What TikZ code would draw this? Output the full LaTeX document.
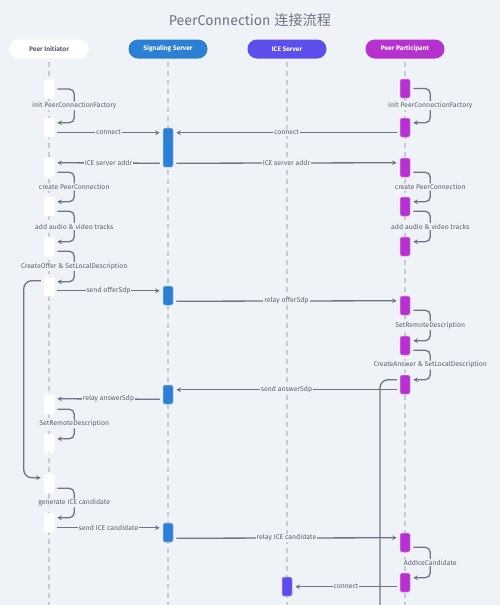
\documentclass[tikz,border=0pt]{standalone}
\usepackage{fontspec}
\setmainfont{Fira Sans}
\newfontfamily\cjkfont{Noto Sans CJK SC}
\usetikzlibrary{arrows.meta,calc}
\definecolor{bg}{HTML}{EFF2F6}
\definecolor{linec}{HTML}{6E7684}
\definecolor{txt}{HTML}{5C6470}
\definecolor{lifec}{HTML}{C6CBD3}
\definecolor{sigc}{HTML}{2B80D5}
\definecolor{icec}{HTML}{5B4EEC}
\definecolor{parc}{HTML}{B631CF}
\definecolor{titlec}{HTML}{6E7785}
\definecolor{initc}{HTML}{FFFFFF}
\begin{document}
\begin{tikzpicture}[x=1pt,y=-1pt,
  hdr/.style={rounded corners=9.5pt, minimum width=79pt, minimum height=19pt, inner sep=0pt,
    font=\fontsize{6.6}{7.5}\selectfont\bfseries, text=white},
  act/.style={fill=#1, draw=#1!45!white, line width=0.5pt, rounded corners=1.5pt,
    minimum width=10pt, minimum height=19pt, inner sep=0pt},
  life/.style={draw=lifec, line width=1.1pt, dash pattern=on 5pt off 4pt},
  msg/.style={draw=linec, line width=1.3pt, -{Stealth[length=4.5pt,width=4.5pt]}},
  selfmsg/.style={msg, rounded corners=5pt},
  loopmsg/.style={msg, rounded corners=8pt},
  lbl/.style={fill=bg, text=txt, font=\fontsize{6.9}{8}\selectfont, inner sep=1pt},
]
\path[use as bounding box, fill=bg] (0,0) rectangle (500,605);
\clip (0,0) rectangle (500,605);

\node[text=titlec, font=\fontsize{14.2}{16}\selectfont] (title) at (250,20) {PeerConnection {\cjkfont 连接流程}};

\node[hdr, fill=white, draw=white, text=txt] (h1) at (49,49) {Peer Initiator};
\node[hdr, fill=sigc] (h2) at (168,49) {Signaling Server};
\node[hdr, fill=icec] (h3) at (287,49) {ICE Server};
\node[hdr, fill=parc] (h4) at (405,49) {Peer Participant};

\coordinate (bot) at (0,606);
\foreach \h in {h1,h2,h3,h4}
  \draw[life] ($(\h.south)+(0,3)$) -- (\h.south |- bot);

% Peer Initiator activations
\node[act=initc] (i1) at (49,89) {};
\node[act=initc] (i2) at (49,127.5) {};
\node[act=initc] (i3) at (49,167.5) {};
\node[act=initc] (i4) at (49,206.5) {};
\node[act=initc] (i5) at (49,246.5) {};
\node[act=initc] (i6) at (49,286.5) {};
\node[act=initc] (i7) at (49,404.5) {};
\node[act=initc] (i8) at (49,443.5) {};
\node[act=initc] (i9) at (49,483.5) {};
\node[act=initc] (i10) at (49,522.5) {};

% Signaling Server activations
\node[act=sigc, minimum height=39pt] (s1) at (168,147.5) {};
\node[act=sigc] (s2) at (168,295.5) {};
\node[act=sigc] (s3) at (168,394.5) {};
\node[act=sigc] (s4) at (168,532.5) {};

% ICE server activation
\node[act=icec] (c1) at (287,586.5) {};

% Peer Participant activations
\node[act=parc] (p1) at (405,88.5) {};
\node[act=parc] (p2) at (405,127.5) {};
\node[act=parc] (p3) at (405,167.5) {};
\node[act=parc] (p4) at (405,206.5) {};
\node[act=parc] (p5) at (405,246.5) {};
\node[act=parc] (p6) at (405,305.5) {};
\node[act=parc] (p7) at (405,345.5) {};
\node[act=parc] (p8) at (405,384.5) {};
\node[act=parc] (p9) at (405,542.5) {};
\node[act=parc] (p10) at (405,582.5) {};

% self messages, initiator
\draw[selfmsg] ($(i1.east)+(3,0)$) -- ++(17,0) |- node[lbl,pos=0.25]{init PeerConnectionFactory} ($(i2.north east)+(3,5)$);
\draw[selfmsg] ($(i3.south east)+(3,-5)$) -- ++(17,0) |- node[lbl,pos=0.25]{create PeerConnection} ($(i4.north east)+(3,5)$);
\draw[selfmsg] ($(i4.south east)+(3,-5)$) -- ++(17,0) |- node[lbl,pos=0.25]{add audio \& video tracks} ($(i5.north east)+(3,5)$);
\draw[selfmsg] ($(i5.south east)+(3,-5)$) -- ++(17,0) |- node[lbl,pos=0.25]{CreateOffer \& SetLocalDescription} ($(i6.north east)+(3,5)$);
\draw[selfmsg] ($(i7.south east)+(3,-5)$) -- ++(17,0) |- node[lbl,pos=0.25]{SetRemoteDescription} ($(i8.north east)+(3,5)$);
\draw[selfmsg] ($(i9.south east)+(3,-5)$) -- ++(17,0) |- node[lbl,pos=0.25]{generate ICE candidate} ($(i10.north east)+(3,5)$);

% self messages, participant
\draw[selfmsg] ($(p1.east)+(3,0)$) -- ++(17,0) |- node[lbl,pos=0.25]{init PeerConnectionFactory} ($(p2.north east)+(3,5)$);
\draw[selfmsg] ($(p3.south east)+(3,-5)$) -- ++(17,0) |- node[lbl,pos=0.25]{create PeerConnection} ($(p4.north east)+(3,5)$);
\draw[selfmsg] ($(p4.south east)+(3,-5)$) -- ++(17,0) |- node[lbl,pos=0.25]{add audio \& video tracks} ($(p5.north east)+(3,5)$);
\draw[selfmsg] ($(p6.south east)+(3,-5)$) -- ++(17,0) |- node[lbl,pos=0.25]{SetRemoteDescription} ($(p7.north east)+(3,5)$);
\draw[selfmsg] ($(p7.south east)+(3,-5)$) -- ++(17,0) |- node[lbl,pos=0.25]{CreateAnswer \& SetLocalDescription} ($(p8.north east)+(3,5)$);
\draw[selfmsg] ($(p9.south east)+(3,-5)$) -- ++(17,0) |- node[lbl,pos=0.25]{AddIceCandidate} ($(p10.north east)+(3,5)$);

% long loops
\draw[loopmsg] ($(i6.north west)+(-3,4)$) -- ++(-17,0) |- ($(i9.north west)+(-3,4)$);
\coordinate (rloop) at (380,650);
\draw[loopmsg] ($(p8.north west)+(-3,5)$) -| (rloop);

% messages
\draw[msg] ($(i2.north east)+(3,15)$) -- node[lbl]{connect} ($(s1.north west)+(-3,5)$);
\draw[msg] ($(p2.north west)+(-3,15)$) -- node[lbl]{connect} ($(s1.north east)+(3,5)$);
\draw[msg] ($(s1.south west)+(-3,-4)$) -- node[lbl]{ICE server addr} ($(i3.north east)+(3,5)$);
\draw[msg] ($(s1.south east)+(3,-4)$) -- node[lbl]{ICE server addr} ($(p3.north west)+(-3,5)$);
\draw[msg] ($(i6.north east)+(3,14)$) -- node[lbl]{send offerSdp} ($(s2.north west)+(-3,5)$);
\draw[msg] ($(s2.south east)+(3,-4)$) -- node[lbl]{relay offerSdp} ($(p6.north west)+(-3,5)$);
\draw[msg] ($(p8.north west)+(-3,15)$) -- node[lbl]{send answerSdp} ($(s3.north east)+(3,5)$);
\draw[msg] ($(s3.south west)+(-3,-5)$) -- node[lbl]{relay answerSdp} ($(i7.north east)+(3,4)$);
\draw[msg] ($(i10.north east)+(3,15)$) -- node[lbl]{send ICE candidate} ($(s4.north west)+(-3,5)$);
\draw[msg] ($(s4.south east)+(3,-4)$) -- node[lbl]{relay ICE candidate} ($(p9.north west)+(-3,5)$);
\draw[msg] ($(p10.north west)+(-3,14)$) -- node[lbl]{connect} ($(c1.north east)+(3,10)$);
\end{tikzpicture}
\end{document}
